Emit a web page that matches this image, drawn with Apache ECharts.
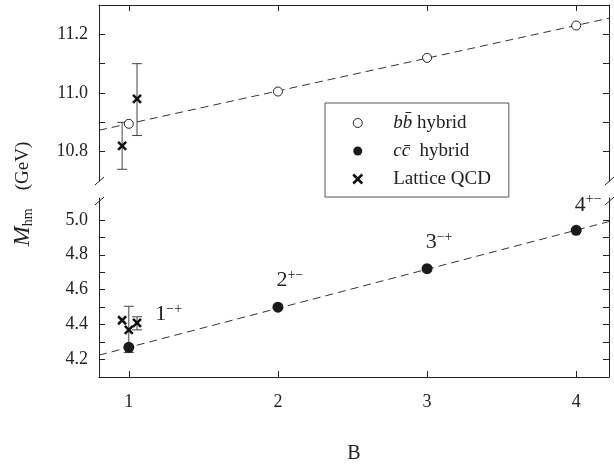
<!DOCTYPE html>
<html><head><meta charset="utf-8">
<script src="https://cdn.jsdelivr.net/npm/echarts@6/dist/echarts.min.js"></script>
<style>html,body{margin:0;padding:0;background:#fff}#c{width:614px;height:465px}</style>
</head><body><div id="c"></div>
<script>
// ---- data ----
const bbX = [1, 2, 3, 4];
const bbY = [10.895, 11.005, 11.12, 11.23];
const ccX = [1, 2, 3, 4];
const ccY = [4.27, 4.50, 4.72, 4.94];
const ccState = ['1', '2', '3', '4'];
const ccPC = ['\u2212+', '+\u2212', '\u2212+', '+\u2212'];
const latTopX = [0.955, 1.055];
const latTopY = [10.82, 10.98];
const latTopLo = [10.74, 10.855];
const latTopHi = [10.90, 11.10];
const latBotX = [0.955, 1.0, 1.055];
const latBotY = [4.425, 4.37, 4.41];
const latBotLo = [null, 4.24, 4.37];
const latBotHi = [null, 4.505, 4.445];
const bbFitX = [0.8, 4.22];
const bbFitY = [10.873, 11.255];
const ccFitX = [0.8, 4.22];
const ccFitY = [4.225, 4.99];
const xTicks = [1, 2, 3, 4];
const yTopTicks = [10.8, 10.9, 11.0, 11.1, 11.2];
const yTopLabels = [10.8, 11.0, 11.2];
const yBotTicks = [4.2, 4.3, 4.4, 4.5, 4.6, 4.7, 4.8, 4.9, 5.0];
const yBotLabels = [4.2, 4.4, 4.6, 4.8, 5.0];

const FONT = 'Liberation Serif';
const INK = '#222';
const zip = (a, b) => a.map((v, i) => [v, b[i]]);

function yAx(gridIdx, min, max, ticks, labels, right) {
  return {
    type: 'value', gridIndex: gridIdx, min: min, max: max,
    position: right ? 'right' : 'left',
    splitLine: {show: false},
    axisLine: {show: true, onZero: false, lineStyle: {color: INK, width: 1}},
    axisTick: {show: true, inside: true, length: 6, customValues: ticks, lineStyle: {color: INK}},
    axisLabel: {show: !right, customValues: labels, margin: 11, color: INK,
      fontFamily: FONT, fontSize: 18, formatter: v => v.toFixed(1)}
  };
}

const errRender = function (params, api) {
  const x = api.value(0), lo = api.value(1), hi = api.value(2);
  if (lo == null || isNaN(lo)) return null;
  const p1 = api.coord([x, lo]), p2 = api.coord([x, hi]);
  const w = 5;
  const st = {stroke: '#444', lineWidth: 1};
  return {type: 'group', children: [
    {type: 'line', shape: {x1: p1[0], y1: p1[1], x2: p2[0], y2: p2[1]}, style: st},
    {type: 'line', shape: {x1: p1[0] - w, y1: p1[1], x2: p1[0] + w, y2: p1[1]}, style: st},
    {type: 'line', shape: {x1: p2[0] - w, y1: p2[1], x2: p2[0] + w, y2: p2[1]}, style: st}
  ]};
};

const XSYM = 'path://M0,0L10,10M10,0L0,10';
const labelPos = [
  {position: 'right', offset: [16, -33]},
  {position: 'top', offset: [12, -4]},
  {position: 'top', offset: [12, -4]},
  {position: 'top', offset: [12, -3]}
];

const rich = {
  n: {fontFamily: FONT, fontSize: 22, color: INK, lineHeight: 24},
  s: {fontFamily: FONT, fontSize: 14, color: INK, lineHeight: 14, verticalAlign: 'top'}
};

const option = {
  animation: false,
  grid: [
    {left: 99, width: 510, top: 5, height: 176},
    {left: 99, width: 510, top: 198, height: 179}
  ],
  xAxis: [
    {type: 'value', gridIndex: 0, min: 0.8, max: 4.22, position: 'top',
     splitLine: {show: false},
     axisLine: {show: true, onZero: false, lineStyle: {color: INK}},
     axisTick: {show: true, inside: true, length: 6, customValues: xTicks, lineStyle: {color: INK}},
     axisLabel: {show: false}},
    {type: 'value', gridIndex: 1, min: 0.8, max: 4.22, position: 'bottom',
     splitLine: {show: false},
     axisLine: {show: true, onZero: false, lineStyle: {color: INK}},
     axisTick: {show: true, inside: true, length: 6, customValues: xTicks, lineStyle: {color: INK}},
     axisLabel: {customValues: xTicks, margin: 16, color: INK, fontFamily: FONT, fontSize: 18},
     name: 'B', nameLocation: 'middle', nameGap: 67,
     nameTextStyle: {color: INK, fontFamily: FONT, fontSize: 20}}
  ],
  yAxis: [
    yAx(0, 10.7, 11.3, yTopTicks, yTopLabels, false),
    yAx(0, 10.7, 11.3, yTopTicks, yTopLabels, true),
    yAx(1, 4.1, 5.125, yBotTicks, yBotLabels, false),
    yAx(1, 4.1, 5.125, yBotTicks, yBotLabels, true)
  ],
  legend: {
    orient: 'vertical', left: 325, top: 103,
    data: [
      {name: 'bb', itemStyle: {color: '#fff', borderColor: INK, borderWidth: 1, opacity: 1}},
      {name: 'cc', itemStyle: {color: '#1a1a1a', borderWidth: 0, opacity: 1}},
      {name: 'lat', itemStyle: {color: '#111', borderColor: '#111', borderWidth: 2.5, opacity: 1}}
    ],
    itemWidth: 9, itemHeight: 9, itemGap: 8,
    padding: [10, 18, 8, 27],
    borderColor: '#555', borderWidth: 1,
    selectedMode: false,
    textStyle: {color: INK, fontFamily: FONT, fontSize: 19, lineHeight: 20, padding: [0, 0, 0, 26],
      rich: {i: {fontFamily: FONT, fontSize: 19, fontStyle: 'italic', color: INK},
             t: {fontFamily: FONT, fontSize: 19, color: INK}}},
    formatter: function (n) {
      if (n === 'bb') return '{i|bb\u0304} {t|hybrid}';
      if (n === 'cc') return '{i|cc\u0304}  {t|hybrid}';
      return '{t|Lattice QCD}';
    }
  },
  graphic: [
    {type: 'text', x: 23, y: 194, rotation: Math.PI / 2,
     style: {text: '{m|M}{b|hm}{t|(GeV)}', align: 'center', verticalAlign: 'middle',
       rich: {m: {fontFamily: FONT, fontSize: 24, fontStyle: 'italic', fill: INK, lineHeight: 24},
              b: {fontFamily: FONT, fontSize: 14, fill: INK, lineHeight: 12, verticalAlign: 'bottom'},
              t: {fontFamily: FONT, fontSize: 19, fill: INK, lineHeight: 24, padding: [0, 0, 0, 18]}}}},
    {type: 'line', shape: {x1: 95, y1: 185, x2: 104, y2: 177}, style: {stroke: INK, lineWidth: 1}},
    {type: 'line', shape: {x1: 95, y1: 205, x2: 104, y2: 197}, style: {stroke: INK, lineWidth: 1}},
    {type: 'line', shape: {x1: 605, y1: 185, x2: 614, y2: 177}, style: {stroke: INK, lineWidth: 1}},
    {type: 'line', shape: {x1: 605, y1: 205, x2: 614, y2: 197}, style: {stroke: INK, lineWidth: 1}}
  ],
  series: [
    {type: 'line', name: 'bbfit', xAxisIndex: 0, yAxisIndex: 0, data: zip(bbFitX, bbFitY),
     showSymbol: false, silent: true, lineStyle: {color: '#333', width: 1, type: [8, 5]}},
    {type: 'line', name: 'ccfit', xAxisIndex: 1, yAxisIndex: 2, data: zip(ccFitX, ccFitY),
     showSymbol: false, silent: true, lineStyle: {color: '#333', width: 1, type: [8, 5]}},
    {type: 'custom', name: 'errTop', xAxisIndex: 0, yAxisIndex: 0, renderItem: errRender,
     encode: {x: 0, y: [1, 2]}, data: latTopX.map((x, i) => [x, latTopLo[i], latTopHi[i]]), z: 3},
    {type: 'custom', name: 'errBot', xAxisIndex: 1, yAxisIndex: 2, renderItem: errRender,
     encode: {x: 0, y: [1, 2]},
     data: latBotX.map((x, i) => [x, latBotLo[i] == null ? '-' : latBotLo[i], latBotHi[i] == null ? '-' : latBotHi[i]]), z: 3},
    {type: 'scatter', name: 'bb', xAxisIndex: 0, yAxisIndex: 0, data: zip(bbX, bbY),
     symbol: 'circle', symbolSize: 9, z: 5,
     itemStyle: {color: '#fff', borderColor: INK, borderWidth: 1, opacity: 1}},
    {type: 'scatter', name: 'cc', xAxisIndex: 1, yAxisIndex: 2, z: 5,
     data: ccX.map((x, i) => ({value: [x, ccY[i]],
       label: Object.assign({show: true, color: INK, opacity: 1, formatter: '{n|' + ccState[i] + '}{s|' + ccPC[i] + '}', rich: rich}, labelPos[i])})),
     symbol: 'circle', symbolSize: 11,
     itemStyle: {color: '#1a1a1a', opacity: 1}},
    {type: 'scatter', name: 'lat', xAxisIndex: 0, yAxisIndex: 0, data: zip(latTopX, latTopY),
     symbol: XSYM, symbolSize: 8, z: 6,
     itemStyle: {color: '#111', borderColor: '#111', borderWidth: 2.5, opacity: 1}},
    {type: 'scatter', name: 'lat', xAxisIndex: 1, yAxisIndex: 2, data: zip(latBotX, latBotY),
     symbol: XSYM, symbolSize: 8, z: 6,
     itemStyle: {color: '#111', borderColor: '#111', borderWidth: 2.5, opacity: 1}}
  ]
};
const chart = echarts.init(document.getElementById('c'), null, {renderer: 'canvas'});
chart.setOption(option);
</script></body></html>
